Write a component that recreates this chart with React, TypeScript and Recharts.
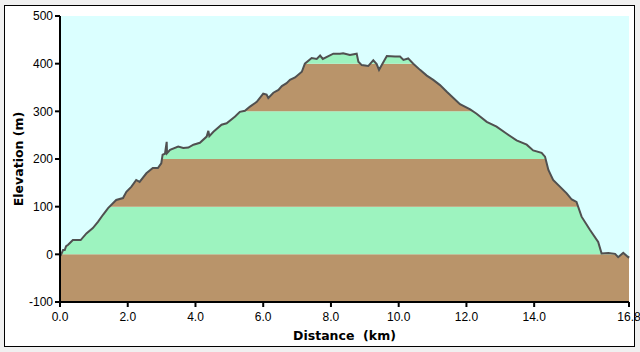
import React from 'react';
import { ComposedChart, Area, Line, XAxis, YAxis, ReferenceArea } from 'recharts';

const distKm = [
  0.0, 0.03, 0.09, 0.14, 0.18, 0.24, 0.38, 0.61, 0.78, 0.97, 1.12, 1.27, 1.42, 1.66, 1.86, 1.96,
  2.11, 2.25, 2.35, 2.55, 2.74, 2.89, 2.99, 3.03, 3.1, 3.15, 3.16, 3.25, 3.49, 3.64, 3.79, 3.94,
  4.13, 4.33, 4.38, 4.41, 4.53, 4.77, 4.92, 5.17, 5.31, 5.46, 5.61, 5.81, 6.0, 6.1, 6.15, 6.3,
  6.45, 6.55, 6.69, 6.79, 6.94, 7.14, 7.23, 7.43, 7.58, 7.68, 7.76, 8.07, 8.27, 8.36, 8.56, 8.76,
  8.81, 8.91, 9.1, 9.25, 9.35, 9.42, 9.5, 9.65, 9.89, 10.04, 10.14, 10.28, 10.43, 10.63, 10.83, 11.02,
  11.22, 11.42, 11.81, 12.11, 12.3, 12.6, 12.89, 13.19, 13.48, 13.78, 13.97, 14.22, 14.32, 14.42, 14.56, 14.76,
  14.96, 15.11, 15.25, 15.4, 15.65, 15.89, 15.99, 16.19, 16.39, 16.48, 16.63, 16.78, 16.8,
];

const elevationM = [
  -4, -1, 9, 9, 17, 20, 30, 30, 44, 55, 68, 83, 97, 114, 118, 131,
  142, 156, 152, 170, 181, 181, 191, 209, 211, 236, 212, 219, 226, 223, 224, 230,
  234, 247, 259, 248, 257, 272, 275, 289, 299, 301, 310, 320, 337, 335, 328, 339,
  345, 353, 359, 366, 371, 383, 400, 412, 410, 417, 410, 421, 421, 422, 418, 421,
  404, 397, 395, 407, 399, 387, 397, 416, 415, 415, 408, 411, 400, 387, 375, 366,
  355, 341, 315, 304, 295, 278, 268, 253, 239, 230, 218, 213, 205, 177, 156, 142,
  128, 115, 110, 79, 51, 26, 2, 3, 1, -6, 3, -6, -4,
];

const xTicks = [0, 2, 4, 6, 8, 10, 12, 14, 16.8];
const yTicks = [-100, 0, 100, 200, 300, 400, 500];

const bandLow = [-100, 0, 100, 200, 300, 400];
const bandHigh = [0, 100, 200, 300, 400, 500];
const bandColors = ['#B9946A', '#9DF3BF', '#B9946A', '#9DF3BF', '#B9946A', '#9DF3BF'];

const data = distKm.map((d, i) => ({ d, e: elevationM[i] }));

const skyColor = '#DBFFFF';
const profileColor = '#505050';

const YLabel = (props: any) => {
  const vb = props.viewBox || {};
  const cx = vb.x + 18;
  const cy = vb.y + vb.height / 2;
  return (
    <text
      x={cx}
      y={cy}
      transform={`rotate(-90, ${cx}, ${cy})`}
      textAnchor="middle"
      dominantBaseline="central"
      fontFamily="DejaVu Sans"
      fontWeight="bold"
      fontSize={12.5}
      fill="#000"
    >
      Elevation (m)
    </text>
  );
};

const XLabel = (props: any) => {
  const vb = props.viewBox || {};
  const cx = vb.x + vb.width / 2;
  const cy = vb.y + 33;
  return (
    <text
      x={cx}
      y={cy}
      textAnchor="middle"
      dominantBaseline="central"
      fontFamily="DejaVu Sans"
      fontWeight="bold"
      fontSize={12.5}
      fill="#000"
      style={{ whiteSpace: 'pre' }}
    >
      {'Distance  (km)'}
    </text>
  );
};

export default function App() {
  return (
    <div style={{ position: 'fixed', left: 0, top: 0, width: 640, height: 352, background: '#F0F0F0' }}>
      <div
        style={{
          position: 'absolute',
          left: 4,
          top: 5,
          width: 629,
          height: 340,
          background: '#FFFFFF',
          border: '1px solid #000',
        }}
      />
      <div style={{ position: 'absolute', left: 0, top: 0 }}>
        <ComposedChart width={640} height={352} data={data} margin={{ top: 16, right: 11, bottom: 0, left: 0 }}>
          <XAxis
            dataKey="d"
            type="number"
            domain={[0, 16.8]}
            ticks={xTicks}
            interval={0}
            tickFormatter={(v: number) => v.toFixed(1)}
            height={50}
            axisLine={{ stroke: '#000', strokeWidth: 2 }}
            tickLine={{ stroke: '#000', strokeWidth: 2 }}
            tickSize={5}
            tickMargin={5}
            tick={{ fill: '#000', fontSize: 12, fontFamily: 'Liberation Sans' }}
            label={<XLabel />}
          />
          <XAxis
            xAxisId="top"
            orientation="top"
            type="number"
            domain={[0, 16.8]}
            height={0}
            tick={false}
            tickLine={false}
            axisLine={{ stroke: '#000', strokeWidth: 1 }}
          />
          <YAxis
            type="number"
            domain={[-100, 500]}
            ticks={yTicks}
            interval={0}
            width={60}
            axisLine={{ stroke: '#000', strokeWidth: 2 }}
            tickLine={{ stroke: '#000', strokeWidth: 2 }}
            tickSize={5}
            tickMargin={2}
            tick={{ fill: '#000', fontSize: 12, fontFamily: 'Liberation Sans' }}
            label={<YLabel />}
          />
          <YAxis
            yAxisId="right"
            orientation="right"
            type="number"
            domain={[-100, 500]}
            width={0}
            tick={false}
            tickLine={false}
            axisLine={{ stroke: '#000', strokeWidth: 2 }}
          />
          {bandLow.map((lo, i) => (
            <ReferenceArea
              key={i}
              x1={0}
              x2={16.8}
              y1={lo}
              y2={bandHigh[i]}
              fill={bandColors[i]}
              fillOpacity={1}
              stroke="none"
              ifOverflow="visible"
            />
          ))}
          <Area
            type="linear"
            dataKey={(p: any) => [p.e, 500]}
            fill={skyColor}
            fillOpacity={1}
            stroke="none"
            isAnimationActive={false}
            dot={false}
            activeDot={false}
          />
          <Line
            type="linear"
            dataKey="e"
            stroke={profileColor}
            strokeWidth={2}
            dot={false}
            activeDot={false}
            isAnimationActive={false}
          />
        </ComposedChart>
      </div>
    </div>
  );
}
